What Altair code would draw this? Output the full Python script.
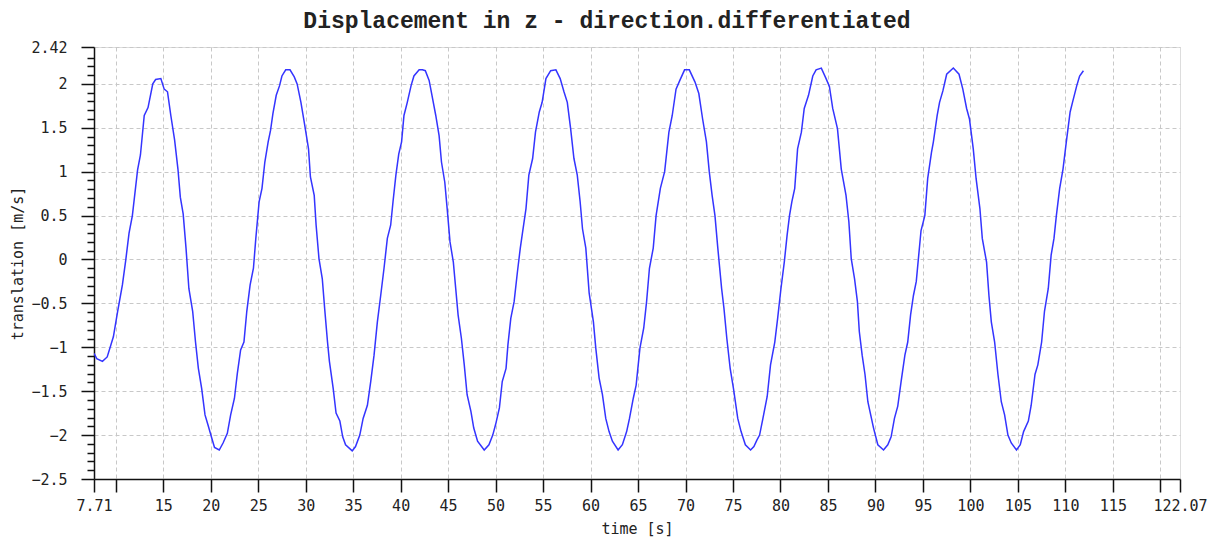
import altair as alt
import pandas as pd

# time [s] and differentiated displacement [m/s]
time_s = [7.71, 8.0, 8.6, 9.1, 9.75, 10.2, 10.7, 11.05, 11.4, 11.75, 12.3, 12.6, 13.0, 13.4, 13.9, 14.2, 14.75,
          15.1, 15.45, 15.8, 16.2, 16.55, 16.8, 17.1, 17.4, 17.7, 18.1, 18.4, 18.7, 19.05, 19.4, 19.7, 20.1,
          20.4, 20.9, 21.3, 21.75, 22.1, 22.5, 22.8, 23.15, 23.5, 23.8, 24.15, 24.5, 24.75, 25.1, 25.4, 25.7,
          26.05, 26.3, 26.55, 26.9, 27.25, 27.5, 27.9, 28.35, 28.8, 29.1, 29.5, 29.9, 30.3, 30.5, 30.9, 31.1,
          31.4, 31.75, 32.0, 32.3, 32.5, 32.9, 33.2, 33.6, 33.9, 34.2, 34.9, 35.25, 35.7, 36.05, 36.5, 36.85,
          37.2, 37.55, 37.9, 38.25, 38.6, 38.95, 39.2, 39.5, 39.8, 40.1, 40.35, 40.7, 41.1, 41.4, 41.95, 42.3,
          42.6, 43.0, 43.3, 43.7, 44.05, 44.3, 44.65, 44.9, 45.2, 45.55, 45.8, 46.05, 46.4, 46.7, 47.0, 47.4,
          47.7, 48.1, 48.8, 49.3, 49.7, 50.0, 50.4, 50.7, 51.1, 51.3, 51.6, 51.95, 52.3, 52.6, 52.8, 53.2,
          53.5, 53.9, 54.2, 54.6, 54.9, 55.3, 55.8, 56.35, 56.8, 57.2, 57.55, 57.9, 58.25, 58.6, 58.9, 59.15,
          59.5, 59.85, 60.3, 60.55, 60.9, 61.25, 61.6, 61.95, 62.3, 62.9, 63.35, 63.8, 64.1, 64.5, 64.8, 65.2,
          65.6, 65.9, 66.2, 66.6, 66.9, 67.35, 67.8, 68.25, 68.6, 69.0, 69.4, 69.9, 70.4, 71.0, 71.4, 71.8,
          72.2, 72.5, 72.8, 73.1, 73.4, 73.8, 74.05, 74.35, 74.7, 75.05, 75.5, 75.85, 76.3, 76.85, 77.2, 77.5,
          77.8, 78.15, 78.6, 78.95, 79.4, 79.7, 80.05, 80.4, 80.7, 80.95, 81.2, 81.5, 81.8, 82.2, 82.5, 82.95,
          83.4, 83.75, 84.3, 84.8, 85.15, 85.5, 86.0, 86.4, 86.9, 87.2, 87.45, 87.8, 88.1, 88.3, 88.6, 88.9,
          89.2, 89.5, 89.8, 90.25, 90.85, 91.3, 91.65, 92.0, 92.35, 92.7, 93.1, 93.4, 93.7, 94.0, 94.3, 94.6,
          94.8, 95.2, 95.5, 95.9, 96.1, 96.5, 96.75, 97.1, 97.5, 98.2, 98.8, 99.2, 99.6, 99.9, 100.3, 100.6,
          101.0, 101.25, 101.7, 101.95, 102.2, 102.55, 102.9, 103.25, 103.6, 103.95, 104.3, 104.85, 105.25,
          105.6, 106.1, 106.4, 106.8, 107.1, 107.5, 107.8, 108.2, 108.5, 108.8, 109.05, 109.4, 109.75, 110.1,
          110.5, 110.75, 111.2, 111.5, 111.9]

translation = [-1.07, -1.13, -1.16, -1.11, -0.88, -0.59, -0.29, -0.01, 0.30, 0.50, 1.02, 1.19, 1.64, 1.73, 2.0, 2.05, 2.06,
               1.94, 1.91, 1.64, 1.36, 1.03, 0.71, 0.52, 0.13, -0.33, -0.59, -0.94, -1.24, -1.47, -1.77, -1.88, -2.03,
               -2.14, -2.17, -2.09, -1.98, -1.77, -1.58, -1.30, -1.03, -0.94, -0.59, -0.29, -0.10, 0.24, 0.66, 0.81, 1.11,
               1.34, 1.47, 1.66, 1.87, 1.98, 2.09, 2.16, 2.16, 2.08, 2.0, 1.79, 1.53, 1.26, 0.94, 0.73, 0.39,
               0.01, -0.22, -0.56, -0.94, -1.16, -1.47, -1.75, -1.84, -2.02, -2.11, -2.18, -2.13, -2.0, -1.81, -1.66, -1.39,
               -1.09, -0.71, -0.41, -0.10, 0.24, 0.39, 0.66, 0.96, 1.20, 1.34, 1.64, 1.79, 1.98, 2.09, 2.16, 2.16,
               2.15, 2.04, 1.87, 1.64, 1.41, 1.11, 0.88, 0.58, 0.20, -0.03, -0.33, -0.63, -0.90, -1.20, -1.54, -1.73,
               -1.92, -2.07, -2.17, -2.11, -2.0, -1.88, -1.69, -1.39, -1.24, -0.97, -0.67, -0.48, -0.14, 0.13, 0.28, 0.58,
               0.96, 1.15, 1.45, 1.68, 1.79, 2.06, 2.15, 2.16, 2.06, 1.91, 1.79, 1.49, 1.15, 0.96, 0.66, 0.35,
               0.13, -0.38, -0.71, -1.01, -1.35, -1.54, -1.81, -1.96, -2.07, -2.17, -2.11, -1.96, -1.81, -1.58, -1.43, -1.01,
               -0.78, -0.48, -0.10, 0.13, 0.50, 0.81, 1.0, 1.45, 1.64, 1.94, 2.04, 2.16, 2.16, 2.02, 1.89, 1.60,
               1.34, 1.0, 0.73, 0.50, 0.13, -0.33, -0.56, -0.90, -1.24, -1.47, -1.81, -1.96, -2.11, -2.17, -2.13, -2.06,
               -2.0, -1.81, -1.56, -1.20, -0.94, -0.67, -0.33, -0.03, 0.28, 0.50, 0.66, 0.81, 1.26, 1.45, 1.72, 1.87,
               2.09, 2.16, 2.18, 2.06, 1.97, 1.72, 1.49, 1.03, 0.73, 0.43, 0.01, -0.22, -0.48, -0.82, -1.09, -1.31,
               -1.62, -1.77, -1.92, -2.11, -2.17, -2.11, -2.02, -1.81, -1.67, -1.39, -1.09, -0.94, -0.63, -0.41, -0.25, 0.10,
               0.33, 0.50, 0.92, 1.22, 1.34, 1.64, 1.79, 1.92, 2.11, 2.18, 2.11, 1.94, 1.72, 1.60, 1.26, 0.92,
               0.58, 0.24, -0.03, -0.41, -0.71, -0.94, -1.31, -1.62, -1.77, -2.0, -2.09, -2.17, -2.11,
               -1.96, -1.84, -1.66, -1.31, -1.20, -0.94, -0.59, -0.33, 0.05, 0.24, 0.50, 0.81, 1.03, 1.34,
               1.68, 1.79, 1.98, 2.09, 2.15]

x_ticks = [7.71, 10, 15, 20, 25, 30, 35, 40, 45, 50, 55, 60, 65, 70, 75, 80, 85, 90, 95, 100,
           105, 110, 115, 120, 122.07]
y_ticks = [-2.5, -2, -1.5, -1, -0.5, 0, 0.5, 1, 1.5, 2, 2.42]
y_minor = [-2.4, -2.3, -2.2, -2.1, -1.9, -1.8, -1.7, -1.6, -1.4, -1.3, -1.2, -1.1, -0.9, -0.8, -0.7, -0.6,
           -0.4, -0.3, -0.2, -0.1, 0.1, 0.2, 0.3, 0.4, 0.6, 0.7, 0.8, 0.9, 1.1, 1.2, 1.3, 1.4,
           1.6, 1.7, 1.8, 1.9, 2.1, 2.2, 2.3]

df = pd.DataFrame({"t": time_s, "v": translation})

FONT = "DejaVu Sans Mono"
x_dom = [7.71, 122.07]
y_dom = [-2.5, 2.42]

x_main = alt.X(
    "t:Q",
    scale=alt.Scale(domain=x_dom, nice=False, zero=False),
    axis=alt.Axis(
        values=x_ticks,
        labelExpr="datum.value == 10 || datum.value == 120 ? '' : format(datum.value, '~g')",
        title="time [s]",
        grid=True,
        gridDash=[4, 3],
        gridColor="#c8c8c8",
        gridOpacity={"condition": {"test": "datum.value > 122 || datum.value < 8", "value": 0}, "value": 1},
        tickSize=13,
        tickColor="#111111",
        tickWidth=1.5,
        domainColor="#111111",
        domainWidth=1.5,
        labelFont=FONT,
        labelFontSize=15,
        labelColor="#222222",
        labelPadding=6,
        labelFlush=False,
        labelOverlap=False,
        titleFont=FONT,
        titleFontSize=15,
        titleFontWeight="normal",
        titleColor="#222222",
        titlePadding=8,
    ),
)

y_main = alt.Y(
    "v:Q",
    scale=alt.Scale(domain=y_dom, nice=False, zero=False),
    axis=alt.Axis(
        values=y_ticks,
        labelExpr="format(datum.value, '~g')",
        title="translation [m/s]",
        orient="left",
        grid=True,
        gridDash=[4, 3],
        gridColor="#c8c8c8",
        tickSize=13,
        tickColor="#111111",
        tickWidth=1.5,
        domainColor="#111111",
        domainWidth=1.5,
        labelFont=FONT,
        labelFontSize=15,
        labelColor="#222222",
        labelPadding=14,
        labelFlush=False,
        labelOverlap=False,
        titleFont=FONT,
        titleFontSize=15,
        titleFontWeight="normal",
        titleColor="#222222",
        titlePadding=5,
    ),
)

line = alt.Chart(df).mark_line(color="#3434ff", strokeWidth=1.5, clip=True).encode(x=x_main, y=y_main)

minor = alt.Chart(df).mark_line(strokeOpacity=0).encode(
    x=x_main,
    y=alt.Y(
        "v:Q",
        scale=alt.Scale(domain=y_dom, nice=False, zero=False),
        axis=alt.Axis(
            values=y_minor,
            orient="left",
            labels=False,
            domain=False,
            grid=False,
            title=None,
            tickSize=7,
            tickColor="#111111",
            tickWidth=1.5,
        ),
    ),
)

chart = (
    alt.layer(line, minor)
    .resolve_axis(y="independent")
    .properties(
        width=1086,
        height=432,
        title=alt.TitleParams(
            "Displacement in z - direction.differentiated",
            font="Liberation Mono",
            fontSize=23,
            fontWeight="bold",
            color="#222222",
            anchor="middle",
            offset=7,
            dx=-30,
        ),
        autosize=alt.AutoSizeParams(type="none"),
        padding={"left": 94, "top": 47, "right": 35, "bottom": 60},
    )
    .configure_view(stroke=None)
    .configure(background="white")
)

chart.save("out.html", embed_options={"renderer": "svg", "actions": False})
